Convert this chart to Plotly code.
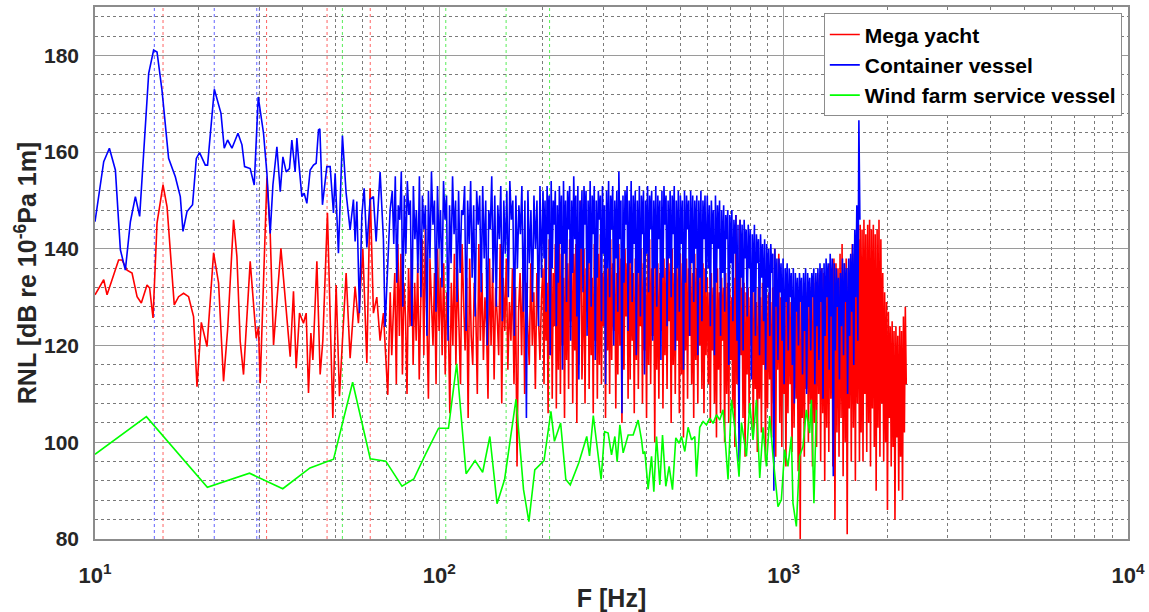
import numpy as np
import plotly.graph_objects as go

# ---------------- Mega yacht (red) ----------------
# resolved low-frequency part: frequency [Hz] / level [dB]
yacht_f_low = [10.0, 10.6, 10.84, 11.71, 11.98, 12.39, 12.81, 13.25, 13.63, 14.16, 14.41, 14.74,
               15.14, 15.76, 16.19, 16.99, 17.49, 18.08, 18.7, 19.33, 19.78, 20.36, 21.15, 22.1,
               22.85, 23.62, 24.27, 25.26, 25.83, 26.41, 27.0, 28.23, 29.39, 29.84, 30.18, 31.57,
               32.27, 33.0, 34.67, 35.68, 36.89, 37.71, 38.39, 39.26, 40.31, 41.05, 41.69, 42.36,
               42.93, 44.09, 45.07, 45.88, 47.32, 49.06, 50.15, 51.28, 53.62, 55.07, 56.94, 58.21,
               59.96, 61.59, 62.95, 64.35, 65.83, 67.3, 68.8, 70.84]
yacht_db_low = [130.5, 133.6, 130.5, 137.7, 137.7, 135.6, 135.0, 130.1, 128.8, 132.5, 131.9, 125.7,
                145.3, 153.2, 148.7, 128.4, 130.1, 130.8, 130.1, 126.0, 111.5, 124.8, 119.8, 139.2,
                132.9, 112.6, 123.2, 146.0, 138.4, 120.8, 114.0, 137.4, 121.5, 123.9, 112.2, 154.6,
                143.2, 120.1, 140.1, 129.1, 117.7, 131.2, 115.3, 126.7, 124.6, 126.7, 110.2, 122.6,
                117.0, 137.4, 114.0, 121.0, 147.4, 105.0, 132.5, 109.5, 135.0, 117.4, 132.2, 124.6,
                140.0, 116.4, 152.5, 126.7, 130.0, 121.0, 126.7, 109.8]

# dense part: frequency bands [Hz] and the levels inside each band [dB]
yacht_bands = [(72, 198), (200, 595), (600, 1660), (1668, 2270)]
yacht_db_72_198 = [
    131, 118, 128, 135, 112, 141, 122, 139, 114, 133,
    126, 110, 136, 124, 140, 116, 133, 121, 137, 113,
    129, 142, 118, 145, 125, 109, 138, 127, 120, 135,
    112, 140, 123, 134, 118, 137, 114, 131, 126, 106,
    133, 120, 139, 116, 136, 124, 112, 141, 128, 119,
    134, 105, 138, 122, 116, 133, 127, 110, 141, 121,
    135, 117, 130, 124, 109, 138, 120, 136, 113, 132,
    126, 118, 141, 108, 134, 123, 138, 115, 129, 121,
    136, 112, 132, 95, 127, 135, 118, 139, 110, 133,
    124, 116, 137, 120, 131, 111, 135, 125, 117, 130]
yacht_db_200_595 = [
    136, 112, 140, 121, 133, 106, 142, 118, 138, 109,
    135, 124, 141, 107, 137, 115, 143, 110, 139, 120,
    134, 105, 140, 117, 137, 111, 142, 125, 136, 108,
    139, 119, 141, 104, 135, 116, 138, 150, 113, 122,
    140, 108, 136, 127, 142, 111, 138, 118, 134, 106,
    141, 121, 137, 109, 139, 116, 143, 112, 135, 124,
    138, 105, 140, 119, 136, 110, 142, 117, 137, 123,
    139, 107, 135, 114, 141, 120, 138, 104, 136, 115,
    140, 126, 137, 109, 142, 113, 139, 121, 135, 106,
    138, 117, 141, 111, 136, 124, 140, 108, 137, 119,
    134, 105, 139, 116, 142, 112, 136, 122, 138, 100,
    140, 115, 137, 109, 135, 123, 141, 107, 138, 118,
    136, 111, 139, 125, 137, 104, 140, 116, 135, 110,
    138, 121, 136, 106, 139, 114, 137, 101, 135, 119,
    138, 109, 136, 122, 137, 112, 135, 105, 139, 117,
    136, 108, 138, 120, 135, 111, 137, 106, 136, 118]
yacht_db_600_1660 = [
    134, 112, 131, 104, 135, 119, 132, 108, 133, 101,
    136, 115, 131, 106, 134, 121, 132, 100, 135, 110,
    133, 104, 132, 117, 130, 107, 134, 99, 147, 112,
    131, 103, 146, 118, 132, 105, 133, 97, 131, 114,
    132, 106, 130, 120, 133, 101, 131, 111, 129, 98,
    132, 109, 130, 102, 133, 116, 131, 96, 130, 107,
    131, 113, 129, 101, 132, 108, 140, 97, 131, 115,
    139, 104, 130, 99, 132, 110, 130, 95, 131, 106,
    130, 112, 129, 98, 131, 103, 130, 109, 132, 94,
    131, 80, 133, 105, 130, 97, 132, 111, 131, 100,
    133, 108, 132, 95, 134, 104, 133, 99, 135, 110,
    134, 96, 136, 106, 135, 92, 134, 103, 136, 98,
    137, 109, 136, 95, 138, 84, 137, 102, 136, 97,
    139, 105, 141, 93, 137, 100, 138, 81, 136, 107,
    138, 96, 141, 103, 139, 92, 140, 108, 142, 96]
yacht_db_1668_2270 = [
    145, 102, 144, 96, 146, 110, 143, 98, 145, 104,
    146, 95, 144, 107, 145, 99, 143, 90, 144, 103,
    146, 97, 142, 108, 135, 96, 131, 100, 129, 86,
    127, 105, 124, 95, 125, 99, 123, 84, 124, 101,
    122, 90, 124, 97, 123, 88, 126, 102, 128, 112]
yacht_band_db = [yacht_db_72_198, yacht_db_200_595, yacht_db_600_1660, yacht_db_1668_2270]

# ---------------- Container vessel (blue) ----------------
container_f_low = [10.0, 10.6, 11.01, 11.46, 11.85, 12.25, 12.67, 13.1, 13.48, 14.32, 14.8, 15.14,
                   15.65, 16.36, 17.11, 17.69, 18.01, 18.5, 19.2, 19.69, 20.12, 20.91, 21.23, 22.21,
                   23.22, 23.73, 24.27, 24.99, 26.01, 26.72, 27.19, 28.23, 29.0, 29.79, 30.86, 31.57,
                   32.27, 32.86, 33.75, 34.51, 35.13, 35.91, 36.71, 37.3, 38.13, 38.57, 39.17, 39.88,
                   40.5, 41.24, 42.16, 43.1, 43.88, 44.57, 44.98, 45.77, 47.13, 48.19, 49.26, 49.82,
                   50.93, 52.31, 53.62, 55.07, 56.3, 56.94, 57.6, 58.61, 59.56, 60.49, 61.59, 62.95,
                   64.35, 65.53, 67.3, 68.8, 69.58, 70.66, 71.95]
container_db_low = [145.6, 158.0, 160.8, 156.3, 139.8, 135.6, 145.6, 150.8, 146.7, 176.3, 181.1, 180.7,
                    172.8, 158.7, 154.9, 150.8, 143.6, 147.7, 149.1, 158.7, 159.9, 157.3, 157.3, 173.0,
                    168.0, 160.8, 162.5, 160.8, 163.9, 161.5, 157.0, 156.6, 153.2, 171.4, 163.9, 155.6,
                    143.2, 153.2, 161.1, 151.8, 159.0, 155.9, 156.6, 162.5, 155.9, 162.9, 157.0, 150.8,
                    151.5, 149.4, 156.3, 157.3, 157.7, 164.6, 164.8, 149.1, 157.0, 157.0, 147.4, 155.6,
                    139.1, 163.4, 151.5, 143.9, 150.2, 141.5, 149.8, 126.7, 147.0, 152.5, 140.3, 150.2,
                    150.8, 141.5, 155.9, 142.0, 123.9, 136.0, 148.0]

container_bands = [(73, 198), (200, 595), (600, 1665)]
container_db_73_198 = [
    152, 141, 155, 133, 149, 146, 156, 128, 151, 139,
    154, 147, 150, 124, 153, 142, 148, 135, 155, 130,
    151, 144, 149, 122, 152, 138, 156, 145, 150, 127,
    153, 140, 148, 132, 154, 146, 151, 121, 149, 137,
    155, 143, 150, 129, 152, 135, 148, 147, 153, 123,
    150, 141, 154, 134, 149, 126, 152, 145, 151, 131,
    153, 138, 150, 120, 148, 144, 155, 133, 151, 128,
    149, 142, 153, 125, 150, 139, 152, 130, 154, 146,
    150, 122, 151, 136, 149, 143, 153, 127, 150, 105,
    152, 137, 148, 129, 151, 140, 150, 124, 153, 134]
container_db_200_595 = [
    152, 138, 150, 127, 153, 143, 151, 118, 154, 136,
    150, 145, 152, 124, 149, 133, 153, 141, 151, 115,
    154, 139, 150, 129, 152, 144, 153, 121, 150, 135,
    155, 142, 151, 126, 153, 113, 150, 140, 152, 131,
    153, 145, 152, 122, 150, 137, 154, 128, 151, 143,
    153, 117, 150, 134, 152, 146, 151, 125, 153, 139,
    149, 112, 152, 136, 154, 130, 151, 144, 153, 120,
    150, 138, 152, 127, 156, 142, 150, 106, 151, 133,
    152, 145, 153, 123, 150, 137, 154, 129, 151, 141,
    152, 118, 150, 135, 153, 126, 151, 143, 152, 114,
    150, 139, 153, 131, 151, 144, 152, 121, 150, 136,
    153, 128, 151, 142, 150, 117, 152, 134, 153, 145,
    151, 124, 150, 138, 152, 130, 151, 143, 153, 119,
    150, 136, 152, 127, 151, 141, 150, 115, 152, 133,
    151, 144, 150, 122, 152, 137, 151, 129, 150, 140,
    151, 118, 150, 134, 152, 125, 150, 142, 151, 131]
container_db_600_1665 = [
    151, 136, 149, 124, 150, 141, 148, 118, 151, 133,
    149, 140, 150, 122, 148, 135, 149, 127, 147, 142,
    148, 116, 147, 137, 148, 125, 146, 139, 147, 121,
    145, 96, 146, 134, 145, 119, 146, 138, 144, 126,
    145, 136, 144, 113, 143, 131, 145, 122, 143, 137,
    142, 118, 143, 134, 141, 125, 142, 115, 141, 132,
    140, 122, 141, 135, 139, 90, 140, 128, 138, 117,
    138, 131, 137, 121, 138, 112, 136, 129, 137, 119,
    136, 130, 135, 116, 136, 108, 135, 127, 134, 120,
    135, 129, 134, 114, 135, 123, 136, 110, 135, 128,
    134, 119, 135, 130, 136, 112, 135, 124, 136, 117,
    137, 129, 136, 109, 137, 122, 138, 130, 137, 115,
    139, 126, 138, 93, 137, 119, 136, 128, 134, 113,
    135, 124, 138, 118, 137, 129, 136, 110, 138, 122,
    139, 127, 141, 116, 144, 130, 149, 121, 166.6, 146]
container_band_db = [container_db_73_198, container_db_200_595, container_db_600_1665]

# ---------------- Wind farm service vessel (green) ----------------
windfarm_f = [10.0, 14.1, 21.2, 28.1, 35.1, 42.1, 49.3, 56.0, 63.0, 69.9, 77.9, 84.3, 91.0, 99.5,
              106.3, 112.3, 119.6, 127.0, 133.6, 140.2, 147.1, 154.7, 167.0, 175.6, 182.0, 189.3,
              201.4, 210.9, 215.9, 225.0, 233.0, 240.0, 254.0, 268.0, 273.0, 280.0, 295.0, 302.0,
              309.2, 316.3, 323.4, 328.4, 334.4, 341.9, 353.5, 365.5, 377.9, 386.6, 390.7, 395.2,
              404.0, 413.3, 419.7, 427.3, 436.9, 444.8, 454.7, 464.9, 475.5, 486.1, 497.0, 505.0,
              516.3, 527.8, 539.9, 551.9, 558.2, 570.6, 583.4, 596.8, 610.2, 623.7, 638.0, 652.3,
              666.7, 682.1, 689.3, 705.2, 721.0, 742.0, 754.1, 779.7, 797.1, 814.7, 833.5, 852.1,
              871.0, 891.0, 910.9, 931.1, 962.7, 984.7, 1006.7, 1029.2, 1052.9, 1064.1, 1088.5,
              1112.8, 1137.6, 1163.8, 1189.6, 1203.4, 1224.3, 1244.0]
windfarm_db = [97.5, 105.3, 90.7, 93.6, 90.4, 94.7, 96.5, 112.4, 96.6, 96.1, 90.9, 92.4, 97.4, 102.9,
               102.9, 116.2, 93.5, 96.2, 93.8, 101.2, 87.3, 92.3, 108.9, 90.2, 83.6, 94.3,
               96.2, 106.4, 100.2, 104.0, 92.3, 91.2, 95.7, 101.2, 97.2, 105.5, 92.3, 102.2,
               101.9, 97.4, 101.2, 96.0, 103.6, 97.8, 101.5, 101.5, 104.6, 100.5, 97.6, 98.1,
               90.3, 97.1, 89.8, 101.2, 91.2, 101.5, 90.9, 95.0, 90.2, 100.9, 99.8, 101.2,
               98.1, 103.1, 100.5, 101.2, 92.9, 103.1, 104.3, 103.6, 105.0, 103.9, 105.7, 104.6,
               106.7, 97.8, 92.3, 108.8, 103.1, 92.9, 104.1, 97.1, 108.1, 100.5, 108.8, 92.6,
               103.1, 95.0, 105.4, 97.1, 86.7, 88.1, 98.5, 95.0, 101.2, 87.4, 82.6,
               97.1, 99.1, 106.7, 101.9, 108.8, 87.4, 106.7]

# harmonic markers [Hz]
container_harmonics = [14.87, 22.2, 29.5, 30.0]
yacht_harmonics = [15.76, 31.5, 47.2, 63.0]
windfarm_harmonics = [52.3, 104.4, 156.3, 209.0]

x_tickvals = [10, 100, 1000, 10000]
x_ticktext = ["10<sup>1</sup>", "10<sup>2</sup>", "10<sup>3</sup>", "10<sup>4</sup>"]
y_tickvals = [80, 100, 120, 140, 160, 180]


def assemble(f_low, db_low, bands, band_db):
    """Join the resolved low band with the dense bands (levels spread over each band)."""
    freqs = [np.asarray(f_low, dtype=float)]
    levels = [np.asarray(db_low, dtype=float)]
    for (f0, f1), vals in zip(bands, band_db):
        freqs.append(np.geomspace(f0, f1, len(vals)))
        levels.append(np.asarray(vals, dtype=float))
    return np.concatenate(freqs), np.concatenate(levels)


yacht_f, yacht_db = assemble(yacht_f_low, yacht_db_low, yacht_bands, yacht_band_db)
container_f, container_db = assemble(container_f_low, container_db_low, container_bands, container_band_db)

FONT = "Liberation Sans, Arial, Helvetica, sans-serif"
LINE_W = 1.6

fig = go.Figure()
fig.add_trace(go.Scatter(x=yacht_f, y=yacht_db, mode="lines", name="Mega yacht",
                         line=dict(color="#ff0000", width=LINE_W)))
fig.add_trace(go.Scatter(x=container_f, y=container_db, mode="lines", name="Container vessel",
                         line=dict(color="#0000ff", width=LINE_W)))
fig.add_trace(go.Scatter(x=windfarm_f, y=windfarm_db, mode="lines", name="Wind farm service vessel",
                         line=dict(color="#00ff00", width=LINE_W)))

for freqs, col in [(container_harmonics, "rgba(60,60,255,0.8)"),
                   (yacht_harmonics, "rgba(255,60,60,0.8)"),
                   (windfarm_harmonics, "rgba(60,235,60,0.85)")]:
    for f in freqs:
        fig.add_shape(type="line", xref="x", yref="paper", x0=f, x1=f, y0=0, y1=1,
                      line=dict(color=col, width=1, dash="dot"), layer="below")

fig.update_layout(
    width=1149, height=612,
    margin=dict(l=95, r=21, t=7, b=73),
    paper_bgcolor="white", plot_bgcolor="white",
    font=dict(family=FONT, color="#262626"),
    showlegend=True,
    legend=dict(x=0.994, xanchor="right", y=0.988, yanchor="top",
                bgcolor="white", bordercolor="#8c8c8c", borderwidth=1,
                font=dict(family=FONT, size=21, color="black", weight="bold"),
                tracegroupgap=0, itemwidth=30),
)
fig.update_xaxes(
    type="log", range=[1, 4], automargin=False,
    tickmode="array", tickvals=x_tickvals, ticktext=x_ticktext,
    tickfont=dict(family=FONT, size=22, color="#262626", weight="bold"),
    ticks="", ticklabelstandoff=16,
    showgrid=True, gridcolor="#9a9a9a", gridwidth=1.2,
    minor=dict(dtick="D1", showgrid=True, gridcolor="#7a7a7a", gridwidth=0.8, griddash="dot", ticks=""),
    showline=True, linecolor="#8c8c8c", linewidth=1.5, mirror=True, zeroline=False,
    title=dict(text="F [Hz]", font=dict(family=FONT, size=25, color="#262626", weight="bold"), standoff=2),
)
fig.update_yaxes(
    range=[80, 190], automargin=False,
    tickmode="array", tickvals=y_tickvals,
    tickfont=dict(family=FONT, size=21, color="#262626", weight="bold"),
    ticks="", ticklabelstandoff=10,
    showgrid=True, gridcolor="#9a9a9a", gridwidth=1.2,
    minor=dict(tick0=80, dtick=4, showgrid=True, gridcolor="#7a7a7a", gridwidth=0.8, griddash="dot", ticks=""),
    showline=True, linecolor="#8c8c8c", linewidth=1.5, mirror=True, zeroline=False,
    title=dict(text="RNL [dB re 10<sup>-6</sup>Pa 1m]",
               font=dict(family=FONT, size=25, color="#262626", weight="bold"), standoff=0),
)

fig.write_html("out.html")
